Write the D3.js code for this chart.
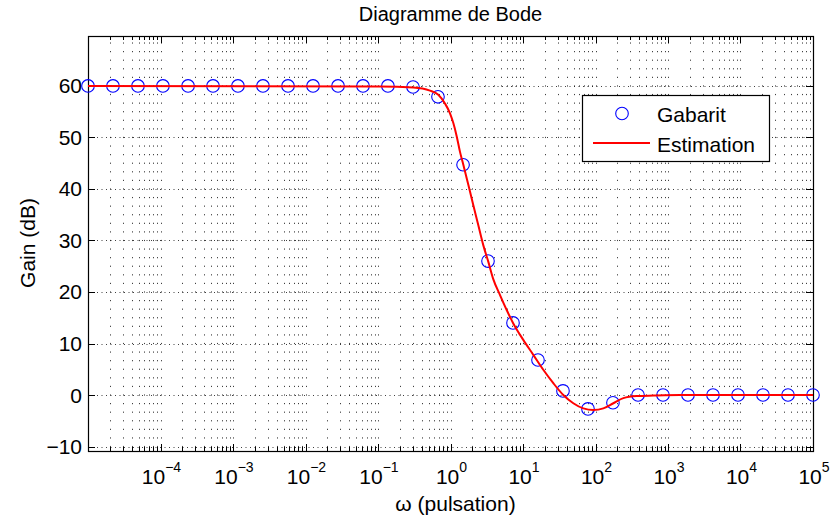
<!DOCTYPE html>
<html><head><meta charset="utf-8">
<script src="https://cdn.jsdelivr.net/npm/d3@7"></script>
<style>
html,body{margin:0;padding:0;background:#fff;}
text{font-family:"Liberation Sans",Arial,Helvetica,sans-serif;fill:#000;}
</style></head>
<body>
<svg id="chart" width="832" height="522"></svg>
<script>
// ---- data ----
const titleText = "Diagramme de Bode";
const xLabelText = "ω (pulsation)";
const yLabelText = "Gain (dB)";
const legendLabels = ["Gabarit", "Estimation"];

const gabaritOmega = [1e-5, 2.21e-5, 4.89e-5, 1.08e-4, 2.40e-4, 5.30e-4, 1.17e-3, 2.59e-3, 5.74e-3, 1.27e-2,
  2.81e-2, 6.21e-2, 0.137, 0.304, 0.672, 1.49, 3.29, 7.28, 16.1, 35.6,
  78.8, 174, 386, 853, 1887, 4175, 9237, 20434, 45204, 1e5];
const gabaritGain = [60, 60, 60, 60, 60, 60, 60, 60, 60, 60,
  60, 60, 60, 59.8, 57.9, 44.7, 26.0, 14.0, 6.8, 0.8,
  -2.7, -1.5, 0, 0, 0, 0, 0, 0, 0, 0];

const estimOmega = [1e-5, 0.107, 0.307, 0.521, 0.679, 0.839, 0.984, 1.094, 1.219, 1.352,
  1.503, 1.762, 2.061, 2.415, 2.831, 3.319, 3.890, 4.819, 5.957, 7.345,
  10.09, 13.87, 19.05, 26.18, 35.97, 49.43, 67.92, 93.33, 128.2, 176.2,
  242.1, 369.8, 626.6, 1466, 1e5];
const estimGain = [60, 59.9, 59.7, 59.1, 58.3, 56.6, 54.7, 52.8, 50.2, 47.2,
  44.7, 40.8, 36.9, 33.0, 29.1, 25.9, 22.5, 19.4, 16.5, 13.9,
  10.7, 7.8, 4.9, 2.3, 0.0, -1.6, -2.6, -2.9, -2.6, -1.6,
  -0.6, -0.2, -0.1, 0, 0];

const xTickExponents = [-4, -3, -2, -1, 0, 1, 2, 3, 4, 5];
const yTickValues = [-10, 0, 10, 20, 30, 40, 50, 60];

// ---- layout ----
const L = 88, R = 813, T = 36, B = 451;
const svg = d3.select("#chart");
const x = d3.scaleLog().domain([1e-5, 1e5]).range([L, R]);
const y = d3.scaleLinear().domain([-10.87, 69.7]).range([B, T]);

// grid
const minorVals = [];
for (let e = -5; e < 5; e++) for (let m = 1; m <= 9; m++) minorVals.push(m * Math.pow(10, e));
minorVals.push(1e5);
const period = (y(50) - y(60)) / 6;
const g = svg.append("g").attr("stroke", "#000").attr("stroke-width", 1);
const topRow = y(60) - period * Math.floor((y(60) - T) / period);
g.selectAll("line.v").data(minorVals.filter(v => x(v) > L + 1 && x(v) < R - 1)).join("line")
  .attr("x1", d => Math.round(x(d)) + 0.5).attr("x2", d => Math.round(x(d)) + 0.5)
  .attr("y1", topRow - 0.6).attr("y2", B)
  .attr("stroke-dasharray", `1.2,${(period - 1.2).toFixed(3)}`)
  .attr("stroke-opacity", 0.75);
g.selectAll("line.h").data(yTickValues).join("line")
  .attr("x1", L).attr("x2", R)
  .attr("y1", d => Math.round(y(d)) + 0.5).attr("y2", d => Math.round(y(d)) + 0.5)
  .attr("stroke-dasharray", "1,3.5")
  .attr("stroke-opacity", 0.75);

// ticks
const tk = svg.append("g").attr("stroke", "#000").attr("stroke-width", 1);
minorVals.forEach(v => {
  const xv = Math.round(x(v)) + 0.5;
  const major = Math.abs(Math.log10(v) - Math.round(Math.log10(v))) < 1e-9;
  const len = major ? 7 : 4;
  tk.append("line").attr("x1", xv).attr("x2", xv).attr("y1", B).attr("y2", B - len);
  tk.append("line").attr("x1", xv).attr("x2", xv).attr("y1", T).attr("y2", T + len);
});
yTickValues.forEach(v => {
  const yv = Math.round(y(v)) + 0.5;
  tk.append("line").attr("x1", L).attr("x2", L + 7).attr("y1", yv).attr("y2", yv);
  tk.append("line").attr("x1", R).attr("x2", R - 7).attr("y1", yv).attr("y2", yv);
});

// box
svg.append("rect").attr("x", L + 0.5).attr("y", T + 0.5).attr("width", R - L).attr("height", B - T)
  .attr("fill", "none").attr("stroke", "#000").attr("stroke-width", 1.2);

// tick labels
svg.append("g").selectAll("text").data(yTickValues).join("text")
  .attr("x", 82).attr("y", d => y(d) + 7.5).attr("text-anchor", "end")
  .attr("font-size", 21)
  .text(d => d < 0 ? "\u2212" + Math.abs(d) : d);

const xl = svg.append("g").selectAll("text").data(xTickExponents).join("text")
  .attr("x", d => x(Math.pow(10, d)) + 1).attr("y", 484).attr("text-anchor", "middle")
  .attr("font-size", 21);
xl.append("tspan").text("10");
xl.append("tspan").attr("dy", -12).attr("font-size", 14)
  .text(d => d < 0 ? "\u2212" + Math.abs(d) : d);

// data: circles then line
svg.append("g").selectAll("circle").data(gabaritOmega).join("circle")
  .attr("cx", d => x(d)).attr("cy", (d, i) => y(gabaritGain[i])).attr("r", 6.3)
  .attr("fill", "none").attr("stroke", "#0000ff").attr("stroke-width", 1.1);

const line = d3.line().x(d => x(d[0])).y(d => y(d[1])).curve(d3.curveMonotoneX);
svg.append("path").datum(estimOmega.map((w, i) => [w, estimGain[i]]))
  .attr("d", line).attr("fill", "none").attr("stroke", "#ff0000").attr("stroke-width", 2);

// titles
svg.append("text").attr("x", (L + R) / 2).attr("y", 21).attr("text-anchor", "middle")
  .attr("font-size", 20).text(titleText);
svg.append("text").attr("x", (L + R) / 2 + 5).attr("y", 511).attr("text-anchor", "middle")
  .attr("font-size", 21).text(xLabelText);
svg.append("text").attr("transform", `translate(35,243) rotate(-90)`).attr("text-anchor", "middle")
  .attr("font-size", 21).text(yLabelText);

// legend
const lg = svg.append("g");
lg.append("rect").attr("x", 582.5).attr("y", 95.5).attr("width", 187).attr("height", 66)
  .attr("fill", "#fff").attr("stroke", "#000").attr("stroke-width", 1.2);
lg.append("circle").attr("cx", 622).attr("cy", 113.5).attr("r", 6.3)
  .attr("fill", "none").attr("stroke", "#0000ff").attr("stroke-width", 1.1);
lg.append("line").attr("x1", 593).attr("x2", 650).attr("y1", 143).attr("y2", 143)
  .attr("stroke", "#ff0000").attr("stroke-width", 2);
lg.selectAll("text.l").data(legendLabels).join("text")
  .attr("x", 657).attr("y", (d, i) => 121.5 + i * 30).attr("font-size", 21).text(d => d);
</script>
</body></html>
